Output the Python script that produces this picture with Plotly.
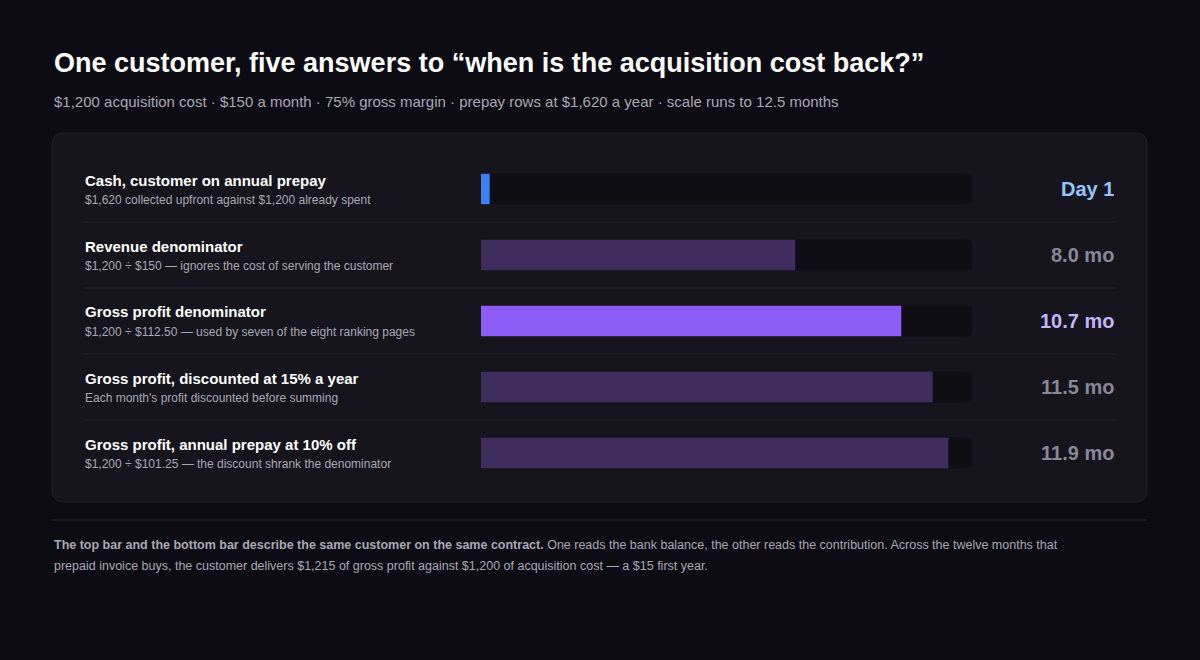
import plotly.graph_objects as go

W, H = 1200, 660

labels = ["Cash, customer on annual prepay", "Revenue denominator", "Gross profit denominator",
          "Gross profit, discounted at 15% a year", "Gross profit, annual prepay at 10% off"]
notes = ["$1,620 collected upfront against $1,200 already spent",
         "$1,200 ÷ $150 — ignores the cost of serving the customer",
         "$1,200 ÷ $112.50 — used by seven of the eight ranking pages",
         "Each month's profit discounted before summing",
         "$1,200 ÷ $101.25 — the discount shrank the denominator"]
months = [1 / 30, 8.0, 10.7, 11.5, 11.9]
value_text = ["Day 1", "8.0 mo", "10.7 mo", "11.5 mo", "11.9 mo"]
scale_max = 12.5

bar_colors = ["#3b82f6", "#3f2d5e", "#8b5cf6", "#3f2d5e", "#3f2d5e"]
val_colors = ["#93c5fd", "#8a8799", "#c4b5fd", "#8a8799", "#8a8799"]

def px(x):
    return x / W

def py(y):
    return 1 - y / H

rows = list(range(len(labels)))
shown = [max(m, 0.22) for m in months]  # keep the day-1 bar visible

fig = go.Figure()
fig.add_trace(go.Bar(x=[scale_max] * 5, y=rows, orientation="h", width=0.46,
                     marker=dict(color="#0f0e15", line_width=0, cornerradius=5), hoverinfo="skip"))
fig.add_trace(go.Bar(x=shown, y=rows, orientation="h", width=0.46,
                     marker=dict(color=bar_colors, line_width=0, cornerradius=5), hoverinfo="skip"))

# rounded card as path in pixel-derived paper coords
r = 12
x0, x1, y0, y1 = 52, 1147, 133, 502
pts = [("M", x0 + r, y0), ("L", x1 - r, y0), ("Q", x1, y0, x1, y0 + r), ("L", x1, y1 - r),
       ("Q", x1, y1, x1 - r, y1), ("L", x0 + r, y1), ("Q", x0, y1, x0, y1 - r),
       ("L", x0, y0 + r), ("Q", x0, y0, x0 + r, y0)]
path = ""
for p in pts:
    nums = p[1:]
    coords = ["%f,%f" % (px(nums[i]), py(nums[i + 1])) for i in range(0, len(nums), 2)]
    path += p[0] + " " + " ".join(coords) + " "
shapes = [dict(type="path", xref="paper", yref="paper", layer="below", path=path + "Z",
               fillcolor="#16151d", line=dict(color="#22212b", width=1))]
for yy in [222, 288, 354, 420]:
    shapes.append(dict(type="line", xref="paper", yref="paper", x0=px(83), x1=px(1116),
                       y0=py(yy), y1=py(yy), line=dict(color="#23222e", width=1)))
shapes.append(dict(type="line", xref="paper", yref="paper", x0=px(52), x1=px(1147),
                   y0=py(520), y1=py(520), line=dict(color="#2a2933", width=1)))

ann = [
    dict(x=px(52), y=py(63), text="<b>One customer, five answers to “when is the acquisition cost back?”</b>",
         font=dict(size=27, color="#ffffff")),
    dict(x=px(52), y=py(101), text="$1,200 acquisition cost · $150 a month · 75% gross margin · prepay rows at $1,620 a year · scale runs to 12.5 months",
         font=dict(size=15, color="#a9a7b5")),
    dict(x=px(52), y=py(545), text="<b>The top bar and the bottom bar describe the same customer on the same contract.</b> One reads the bank balance, the other reads the contribution. Across the twelve months that",
         font=dict(size=12.5, color="#a9a7b5")),
    dict(x=px(52), y=py(566), text="prepaid invoice buys, the customer delivers $1,215 of gross profit against $1,200 of acquisition cost — a $15 first year.",
         font=dict(size=12.5, color="#a9a7b5")),
]
for i in rows:
    cy = 189 + 66 * i
    ann.append(dict(x=px(83), y=py(cy - 9), text="<b>" + labels[i] + "</b>", font=dict(size=15, color="#ffffff")))
    ann.append(dict(x=px(83), y=py(cy + 11), text=notes[i], font=dict(size=12, color="#a9a7b5")))
    ann.append(dict(x=px(1116), y=py(cy), text="<b>" + value_text[i] + "</b>", xanchor="right",
                    font=dict(size=20, color=val_colors[i])))
for a in ann:
    a.update(xref="paper", yref="paper", showarrow=False, yanchor="middle")
    a.setdefault("xanchor", "left")

fig.update_layout(
    width=W, height=H, margin=dict(l=0, r=0, t=0, b=0),
    paper_bgcolor="#0d0c14", plot_bgcolor="rgba(0,0,0,0)",
    font=dict(family="Liberation Sans, Arial, Helvetica, sans-serif"),
    barmode="overlay", showlegend=False,
    xaxis=dict(domain=[px(481), px(972)], range=[0, scale_max], visible=False, fixedrange=True),
    yaxis=dict(domain=[py(486), py(156)], range=[4.5, -0.5], visible=False, fixedrange=True),
    shapes=shapes, annotations=ann,
)
fig.write_html("out.html", config={"displayModeBar": False})

# drop the browser's default page margin so the chart fills the window
with open("out.html", encoding="utf-8") as f:
    page = f.read()
with open("out.html", "w", encoding="utf-8") as f:
    f.write(page.replace("<head>", "<head><style>body{margin:0;background:#0d0c14}</style>", 1))
